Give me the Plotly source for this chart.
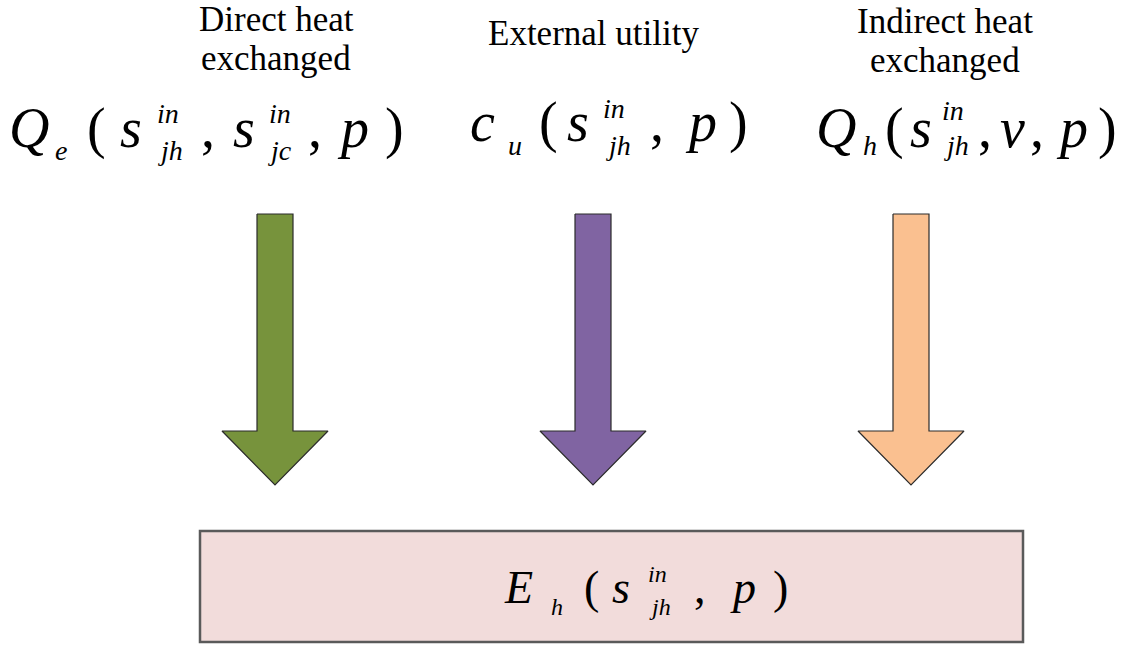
import plotly.graph_objects as go

# ---------------- data ----------------
categories = ["Direct heat exchanged", "External utility", "Indirect heat exchanged"]
label_lines = [["Direct heat", "exchanged"], ["External utility"], ["Indirect heat", "exchanged"]]
arrow_colors = ["#77933C", "#8064A2", "#FAC090"]

# formula tokens: (text, role)  role: M=main italic, U=main upright, P=superscript, B=subscript
formula_inputs = [
    [("Q", "M"), ("e", "B"), ("(", "U"), ("s", "M"), ("in", "P"), ("jh", "B"), (",", "U"),
     ("s", "M"), ("in", "P"), ("jc", "B"), (",", "U"), ("p", "M"), (")", "U")],
    [("c", "M"), ("u", "B"), ("(", "U"), ("s", "M"), ("in", "P"), ("jh", "B"), (",", "U"),
     ("p", "M"), (")", "U")],
    [("Q", "M"), ("h", "B"), ("(", "U"), ("s", "M"), ("in", "P"), ("jh", "B"), (",", "U"),
     ("v", "M"), (",", "U"), ("p", "M"), (")", "U")],
]
formula_output = [("E", "M"), ("h", "B"), ("(", "U"), ("s", "M"), ("in", "P"), ("jh", "B"),
                  (",", "U"), ("p", "M"), (")", "U")]

# ---------------- layout (pixel geometry) ----------------
W, H = 1125, 646
arrow_cx = [275, 593, 911]
shaft_half, head_half = 18, 53
arrow_top, arrow_shoulder, arrow_tip = 214, 431, 485
box_x0, box_x1, box_y0, box_y1 = 200, 1023, 531, 642

label_pos = [[(276, 31), (276, 70)], [(593, 45)], [(945, 33), (945, 72)]]
label_size = 35

formula_in_x = [
    [29, 61, 96, 131, 168, 170, 208, 244, 280, 280, 315, 353, 394],
    [482, 515, 548, 578, 614, 618, 657, 701, 738],
    [836, 870, 894, 921, 953, 956, 985, 1012, 1037, 1072, 1107],
]
formula_in_base = [  # baselines for main, superscript, subscript
    (147, 123, 160),
    (141, 118, 155),
    (147, 120, 155),
]
formula_out_x = [518, 557, 591, 621, 657, 660, 700, 743, 780]
formula_out_base = (603, 582, 615)

FONT = "Liberation Serif"

fig = go.Figure()

# arrows
for cx, col in zip(arrow_cx, arrow_colors):
    xs = [cx - shaft_half, cx + shaft_half, cx + shaft_half, cx + head_half, cx,
          cx - head_half, cx - shaft_half, cx - shaft_half]
    ys = [arrow_top, arrow_top, arrow_shoulder, arrow_shoulder, arrow_tip,
          arrow_shoulder, arrow_shoulder, arrow_top]
    fig.add_trace(go.Scatter(x=xs, y=ys, mode="lines", fill="toself", fillcolor=col,
                             line=dict(color="#2b2b2b", width=1.2), hoverinfo="skip",
                             showlegend=False))

# output box
fig.add_shape(type="rect", xref="x", yref="y", x0=box_x0, x1=box_x1, y0=box_y0, y1=box_y1,
              fillcolor="#F2DCDB", line=dict(color="#5a5a5a", width=2.5), layer="below")

ASC_MID = 0.3375  # baseline -> box middle offset (em)


def put(text, x, base, size, italic):
    fig.add_annotation(x=x, y=base - ASC_MID * size, xref="x", yref="y", text=text,
                       showarrow=False, xanchor="center", yanchor="middle", borderpad=0,
                       font=dict(family=FONT, size=size, color="black",
                                 style="italic" if italic else "normal"))


def put_formula(tokens, xs, bases, main, small):
    bm, bp, bb = bases
    for (txt, role), x in zip(tokens, xs):
        if role == "M":
            put(txt, x, bm, main, True)
        elif role == "U":
            put(txt, x, bm, main, False)
        elif role == "P":
            put(txt, x, bp, small, True)
        else:
            put(txt, x, bb, small, True)


for toks, xs, bases in zip(formula_inputs, formula_in_x, formula_in_base):
    put_formula(toks, xs, bases, 56, 28)
put_formula(formula_output, formula_out_x, formula_out_base, 46, 24)

for lines, poss in zip(label_lines, label_pos):
    for ln, (x, b) in zip(lines, poss):
        put(ln, x, b, label_size, False)

fig.update_layout(
    width=W, height=H, margin=dict(l=0, r=0, t=0, b=0),
    paper_bgcolor="white", plot_bgcolor="white",
    xaxis=dict(range=[0, W], visible=False, fixedrange=True),
    yaxis=dict(range=[H, 0], visible=False, fixedrange=True),
    showlegend=False,
)
fig.write_html("out.html", config={"displayModeBar": False},
               post_script="document.body.style.margin='0';document.body.style.padding='0';")
